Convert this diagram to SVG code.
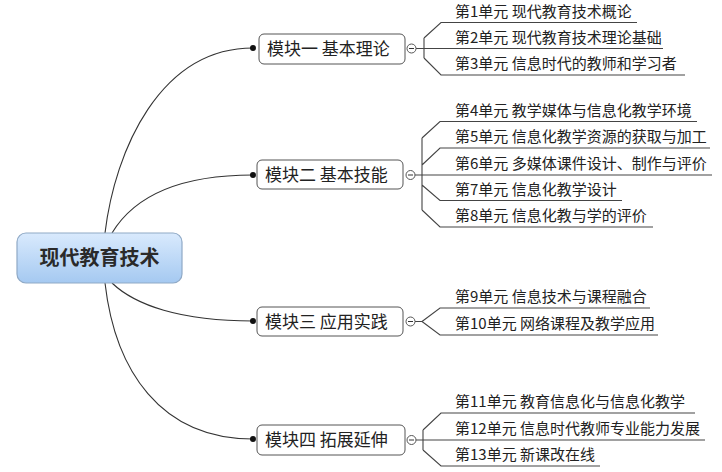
<svg xmlns="http://www.w3.org/2000/svg" width="722" height="472" viewBox="0 0 722 472">
<defs>
<linearGradient id="cg" x1="0" y1="0" x2="0" y2="1">
<stop offset="0" stop-color="#d9eafd"/>
<stop offset="1" stop-color="#a5c9f1"/>
</linearGradient>
<style>
.conn{fill:none;stroke:#333;stroke-width:1.1}
.br{fill:none;stroke:#444;stroke-width:1.1}
.mod rect{fill:#fff;stroke:#555;stroke-width:1}
.mod text{font-family:"Noto Sans CJK SC","Liberation Sans",sans-serif;font-size:17px;fill:#222}
.ch{font-family:"Noto Sans CJK SC","Liberation Sans",sans-serif;font-size:15px;fill:#222}
.tog circle{fill:#fff;stroke:#555;stroke-width:1}
.tog line{stroke:#333;stroke-width:1}
</style>
</defs>
<rect width="722" height="472" fill="#fff"/>
<g id="connectors">
<path class="conn" d="M105,233 C115,150 160,48 253,48"/>
<path class="conn" d="M112,233 C135,195 180,175 253,175"/>
<path class="conn" d="M112,283 C135,305 180,321 253,321"/>
<path class="conn" d="M105,283 C115,370 160,439 253,439"/>
<g fill="#111">
<circle cx="253" cy="48" r="3"/>
<circle cx="253" cy="175" r="3"/>
<circle cx="253" cy="321" r="3"/>
<circle cx="253" cy="439" r="3"/>
</g>
<!-- module 1 branches -->
<path class="br" d="M416,48.5 H424 M424,38 V58 M424,38 L441,22.5 H637 M424,48.5 H663 M424,58 L441,75 H685"/>
<!-- module 2 branches -->
<path class="br" d="M415,175 H422 M422,138 V210 M422,138 L440,121.5 H697 M422,165 L440,148 H710 M422,175 H712 M422,185 L440,200.5 H622 M422,210 L440,227 H653"/>
<!-- module 3 branches -->
<path class="br" d="M415,321.5 H422 M422,321.5 L440,308 H650 M422,321.5 L440,335 H658"/>
<!-- module 4 branches -->
<path class="br" d="M416,440 H423 M423,430 V450 M423,430 L441,413 H695 M423,440 H705 M423,450 L441,466 H600"/>
</g>
<g id="central">
<rect x="17" y="233" width="165" height="50" rx="9" fill="url(#cg)" stroke="#8fa9c6" stroke-width="1.2"/>
<text x="99.5" y="265" text-anchor="middle" font-family="Noto Sans CJK SC,Liberation Sans,sans-serif" font-size="20" font-weight="bold" fill="#2a2a2a">现代教育技术</text>
</g>
<g id="module1" class="mod">
<rect x="259" y="34" width="146" height="30" rx="5"/>
<text x="267" y="55">模块一 基本理论</text>
</g>
<g id="module2" class="mod">
<rect x="257" y="160" width="146" height="29" rx="5"/>
<text x="265" y="181">模块二 基本技能</text>
</g>
<g id="module3" class="mod">
<rect x="257" y="307" width="146" height="29" rx="5"/>
<text x="265" y="328">模块三 应用实践</text>
</g>
<g id="module4" class="mod">
<rect x="257" y="425" width="148" height="30" rx="5"/>
<text x="265" y="446">模块四 拓展延伸</text>
</g>
<g id="toggles" class="tog">
<circle cx="411.5" cy="48.5" r="4.5"/><line x1="409" y1="48.5" x2="414" y2="48.5"/>
<circle cx="410.5" cy="175" r="4.5"/><line x1="408" y1="175" x2="413" y2="175"/>
<circle cx="410.5" cy="321.5" r="4.5"/><line x1="408" y1="321.5" x2="413" y2="321.5"/>
<circle cx="411.5" cy="440" r="4.5"/><line x1="409" y1="440" x2="414" y2="440"/>
</g>
<g id="u1"><text class="ch" x="455" y="16.5">第1单元 现代教育技术概论</text></g>
<g id="u2"><text class="ch" x="455" y="42.5">第2单元 现代教育技术理论基础</text></g>
<g id="u3"><text class="ch" x="455" y="69">第3单元 信息时代的教师和学习者</text></g>
<g id="u4"><text class="ch" x="455" y="115.5">第4单元 教学媒体与信息化教学环境</text></g>
<g id="u5"><text class="ch" x="455" y="142">第5单元 信息化教学资源的获取与加工</text></g>
<g id="u6"><text class="ch" x="455" y="169">第6单元 多媒体课件设计、制作与评价</text></g>
<g id="u7"><text class="ch" x="455" y="194.5">第7单元 信息化教学设计</text></g>
<g id="u8"><text class="ch" x="455" y="221">第8单元 信息化教与学的评价</text></g>
<g id="u9"><text class="ch" x="455" y="302">第9单元 信息技术与课程融合</text></g>
<g id="u10"><text class="ch" x="455" y="329">第10单元 网络课程及教学应用</text></g>
<g id="u11"><text class="ch" x="455" y="407">第11单元 教育信息化与信息化教学</text></g>
<g id="u12"><text class="ch" x="455" y="434">第12单元 信息时代教师专业能力发展</text></g>
<g id="u13"><text class="ch" x="455" y="460">第13单元 新课改在线</text></g>
</svg>
